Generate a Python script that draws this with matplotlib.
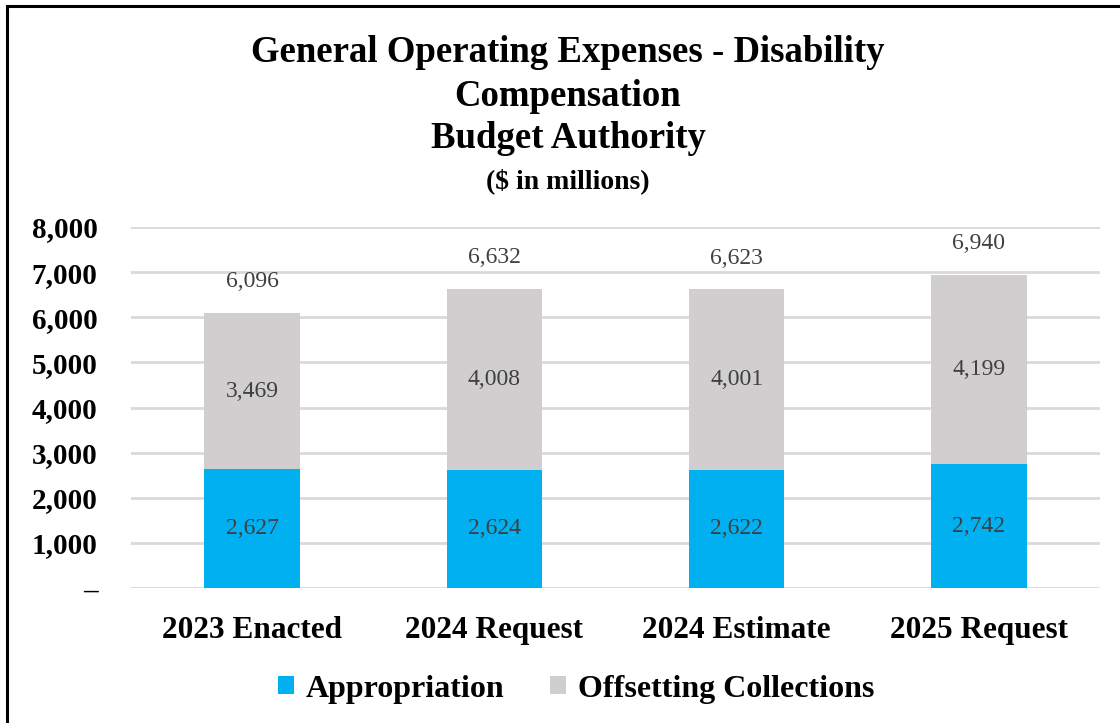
import matplotlib.pyplot as plt
from matplotlib.lines import Line2D
from matplotlib.ticker import FuncFormatter

plt.rcParams['font.family'] = ['Liberation Serif', 'DejaVu Serif']

categories = ['2023 Enacted', '2024 Request', '2024 Estimate', '2025 Request']
appropriation = [2627, 2624, 2622, 2742]
offsetting = [3469, 4008, 4001, 4199]
totals = [6096, 6632, 6623, 6940]

blue = '#00B0F0'
gray = '#D0CECE'
label_color = '#404040'

W, H = 1120, 723
fig = plt.figure(figsize=(W / 100, H / 100), dpi=100)
ax = fig.add_axes([131 / W, (H - 588) / H, (1100 - 131) / W, (588 - 227) / H])

x = range(len(categories))
width = 0.395
ax.bar(x, appropriation, width, color=blue, label='Appropriation', zorder=2)
ax.bar(x, offsetting, width, bottom=appropriation, color=gray,
       label='Offsetting Collections', zorder=2)

for i in x:
    ax.text(i, appropriation[i] / 2, f'{appropriation[i]:,}', ha='center', va='center',
            fontsize=17, color=label_color, zorder=3)
    ax.text(i, appropriation[i] + offsetting[i] / 2, f'{offsetting[i]:,}', ha='center',
            va='center', fontsize=17, color=label_color, zorder=3)
    ax.text(i, totals[i] + 690, f'{totals[i]:,}', ha='center', va='center',
            fontsize=17, color=label_color, zorder=3)

ax.set_xlim(-0.5, len(categories) - 0.5)
ax.set_ylim(0, 8000)
ax.set_yticks(range(0, 8001, 1000))
ax.yaxis.set_major_formatter(FuncFormatter(lambda v, p: '–' if v == 0 else f'{int(v):,}'))
ax.grid(axis='y', color='#D9D9D9', linewidth=2, zorder=0)
for s in ax.spines.values():
    s.set_visible(False)
ax.tick_params(axis='both', length=0)
ax.tick_params(axis='y', labelsize=21, pad=24)
ax.tick_params(axis='x', labelsize=22.5, pad=20)
ax.set_xticks(list(x))
ax.set_xticklabels(categories, fontweight='bold')
for lbl in ax.get_yticklabels():
    lbl.set_fontweight('bold')

fig.legend(loc='center', bbox_to_anchor=(576 / W, (H - 689) / H), ncol=2, frameon=False,
           prop={'size': 23, 'weight': 'bold'}, handlelength=0.5, handleheight=0.5,
           handletextpad=0.37, columnspacing=1.45)

title_x = 568 / W
fig.text(title_x, (H - 52) / H, 'General Operating Expenses - Disability', ha='center',
         va='center', fontsize=26.5, fontweight='bold')
fig.text(title_x, (H - 96) / H, 'Compensation', ha='center', va='center',
         fontsize=26.5, fontweight='bold')
fig.text(title_x, (H - 139) / H, 'Budget Authority', ha='center', va='center',
         fontsize=26.5, fontweight='bold')
fig.text(title_x, (H - 181) / H, '($ in millions)', ha='center', va='center',
         fontsize=20, fontweight='bold')

# frame around the chart (top and left edges visible)
fig.add_artist(Line2D([7 / W, 1.0], [1 - 6 / H, 1 - 6 / H], color='black', linewidth=2.2,
                      transform=fig.transFigure))
fig.add_artist(Line2D([7 / W, 7 / W], [0, 1 - 6 / H], color='black', linewidth=2.2,
                      transform=fig.transFigure))

fig.savefig('out.png', dpi=100)
